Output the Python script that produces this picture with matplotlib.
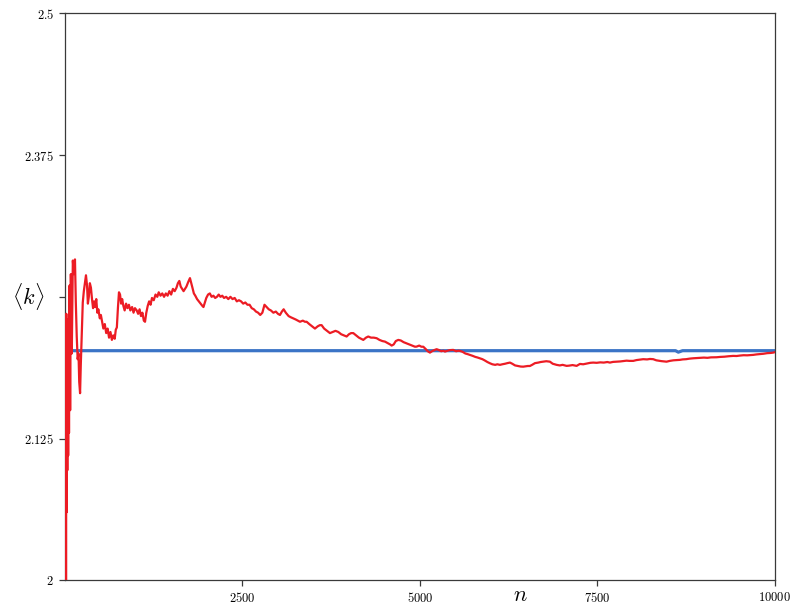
import matplotlib
matplotlib.use("Agg")
import matplotlib.pyplot as plt

plt.rcParams["mathtext.fontset"] = "cm"
plt.rcParams["font.family"] = "serif"
plt.rcParams["font.serif"] = ["cmr10", "DejaVu Serif"]
plt.rcParams["axes.formatter.use_mathtext"] = True

# running mean degree <k> as the network grows (red)
n_obs = [
    2, 6, 10, 14, 18, 22, 26, 32, 38, 44, 50, 56, 64, 72, 82, 95, 110, 125,
    140, 152,
    165, 178, 190, 200, 212, 222, 235, 250, 265, 280, 295, 310, 322, 335, 350,
    365, 380, 395, 410, 425, 440, 455, 470, 490, 505, 520, 540, 560, 580, 600,
    620, 640, 660, 680, 700, 715, 730, 745, 760, 775, 790, 805, 822, 840, 860,
    880, 900, 920, 945, 965, 985, 1010, 1030, 1050, 1070, 1090, 1110, 1127,
    1145, 1165, 1185, 1205, 1225, 1250, 1275, 1300, 1320, 1345, 1370, 1395,
    1420, 1445, 1470, 1495, 1520, 1545, 1570, 1590, 1610, 1630, 1650, 1670,
    1690, 1710, 1735, 1760, 1775, 1795, 1815, 1835, 1860, 1885, 1910, 1935,
    1950, 1970, 1990, 2015, 2040, 2065, 2090, 2115, 2140, 2165, 2190, 2215,
    2240, 2270, 2300, 2330, 2360, 2390, 2420, 2450, 2480, 2510, 2540, 2570,
    2600, 2630, 2660, 2690, 2720, 2750, 2780, 2810, 2840, 2870, 2900, 2935,
    2970, 3000, 3028, 3055, 3080, 3110, 3150, 3180, 3216, 3250, 3280, 3310,
    3350, 3380, 3404, 3440, 3480, 3521, 3560, 3590, 3615, 3650, 3690, 3732,
    3770, 3810, 3850, 3890, 3930, 3967, 4000, 4030, 4061, 4100, 4140, 4170,
    4202, 4240, 4272, 4310, 4350, 4390, 4430, 4470, 4507, 4550, 4580, 4601,
    4630, 4660, 4695, 4730, 4770, 4812, 4850, 4890, 4930, 4953, 4990, 5020,
    5047, 5080, 5110, 5141, 5170, 5200, 5235, 5270, 5300, 5330, 5352, 5390,
    5420, 5469, 5510, 5540, 5563, 5600, 5640, 5670, 5704, 5740, 5780, 5810,
    5845, 5880, 5910, 5950, 5986, 6020, 6060, 6090, 6127, 6160, 6200, 6230,
    6268, 6300, 6340, 6380, 6420, 6455, 6490, 6520, 6549, 6580, 6620, 6667,
    6700, 6737, 6780, 6831, 6870, 6900, 6925, 6970, 7010, 7066, 7100, 7150,
    7207, 7254, 7300, 7350, 7400, 7441, 7490, 7540, 7590, 7640, 7676, 7720,
    7770, 7820, 7870, 7911, 7950, 8005, 8050, 8100, 8145, 8200, 8240, 8286,
    8330, 8357, 8400, 8440, 8474, 8520, 8570, 8620, 8662, 8700, 8750, 8800,
    8850, 8900, 8950, 9000, 9050, 9100, 9179, 9230, 9290, 9350, 9413, 9460,
    9510, 9560, 9610, 9650, 9695, 9740, 9790, 9840, 9890, 9940, 9977, 10000,
]
k_avg = [
    2.230, 2.150, 2.225, 2.000, 2.235, 2.060, 2.220, 2.097, 2.230, 2.110,
    2.215, 2.130, 2.260, 2.150, 2.270, 2.200, 2.282, 2.270, 2.283, 2.245,
    2.215, 2.195,
    2.200, 2.175, 2.165, 2.190, 2.215, 2.245, 2.255, 2.262, 2.269, 2.260,
    2.244, 2.250, 2.262, 2.258, 2.248, 2.240, 2.246, 2.241, 2.248, 2.236,
    2.239, 2.231, 2.234, 2.229, 2.222, 2.226, 2.218, 2.222, 2.214, 2.219,
    2.212, 2.216, 2.213, 2.221, 2.223, 2.240, 2.254, 2.252, 2.244, 2.248,
    2.242, 2.238, 2.244, 2.240, 2.243, 2.238, 2.241, 2.236, 2.240, 2.238,
    2.235, 2.239, 2.233, 2.236, 2.229, 2.228, 2.236, 2.242, 2.246, 2.243,
    2.249, 2.247, 2.252, 2.250, 2.254, 2.251, 2.253, 2.250, 2.253, 2.251,
    2.255, 2.252, 2.257, 2.255, 2.258, 2.262, 2.264, 2.259, 2.257, 2.255,
    2.257, 2.259, 2.263, 2.2665, 2.263, 2.258, 2.253, 2.251, 2.248, 2.246,
    2.244, 2.242, 2.241, 2.245, 2.249, 2.252, 2.253, 2.250, 2.251, 2.249,
    2.250, 2.252, 2.250, 2.251, 2.249, 2.250, 2.248, 2.250, 2.248, 2.249,
    2.246, 2.247, 2.246, 2.244, 2.245, 2.243, 2.243, 2.240, 2.239, 2.237,
    2.236, 2.234, 2.236, 2.243, 2.241, 2.239, 2.238, 2.236, 2.237, 2.235,
    2.234, 2.237, 2.239, 2.236, 2.233, 2.232, 2.231, 2.230, 2.229, 2.228,
    2.229, 2.228, 2.228, 2.226, 2.224, 2.222, 2.224, 2.225, 2.225, 2.222,
    2.220, 2.218, 2.219, 2.220, 2.219, 2.217, 2.216, 2.215, 2.217, 2.218,
    2.218, 2.216, 2.214, 2.213, 2.212, 2.214, 2.215, 2.214, 2.214, 2.2135,
    2.212, 2.211, 2.2105, 2.209, 2.208, 2.207, 2.208, 2.211, 2.212, 2.2115,
    2.210, 2.209, 2.208, 2.207, 2.206, 2.2061, 2.207, 2.206, 2.206, 2.204,
    2.202, 2.2008, 2.202, 2.203, 2.2038, 2.203, 2.202, 2.2025, 2.2017, 2.2025,
    2.203, 2.2032, 2.202, 2.2025, 2.2023, 2.2015, 2.200, 2.1995, 2.1988, 2.198,
    2.197, 2.1965, 2.1958, 2.195, 2.194, 2.1925, 2.1914, 2.1905, 2.190, 2.1905,
    2.1900, 2.1905, 2.191, 2.1915, 2.192, 2.191, 2.1895, 2.189, 2.1885, 2.1884,
    2.1887, 2.189, 2.189, 2.190, 2.1915, 2.192, 2.1925, 2.1928, 2.1932, 2.1928,
    2.191, 2.1905, 2.190, 2.1895, 2.190, 2.1891, 2.1893, 2.1898, 2.1891, 2.1908,
    2.1905, 2.1912, 2.1918, 2.192, 2.1918, 2.1922, 2.192, 2.1925, 2.192, 2.1926,
    2.1928, 2.193, 2.1934, 2.1937, 2.1935, 2.1935, 2.1942, 2.1946, 2.195, 2.1948,
    2.1952, 2.195, 2.194, 2.1937, 2.1933, 2.193, 2.1928, 2.1935, 2.194, 2.1942,
    2.1944, 2.1948, 2.195, 2.1955, 2.1958, 2.196, 2.1962, 2.1964, 2.1962, 2.1966,
    2.1967, 2.197, 2.1972, 2.1976, 2.1979, 2.1978, 2.1982, 2.1985, 2.1984, 2.1986,
    2.1988, 2.1992, 2.1995, 2.1998, 2.2003, 2.2005, 2.2008, 2.2012,
]

# expected mean degree (blue)
n_ref = [1, 3, 6, 10, 8600, 8640, 8700, 10000]
k_ref = [2.04, 2.15, 2.19, 2.2025, 2.2025, 2.2012, 2.2025, 2.2025]

y_ticks = [2.0, 2.125, 2.25, 2.375, 2.5]
y_tick_labels = [r"$2$", r"$2.125$", "", r"$2.375$", r"$2.5$"]
x_ticks = [2500, 5000, 7500, 10000]
x_tick_labels = [r"$2500$", r"$5000$", r"$7500$", r"$10000$"]

fig = plt.figure(figsize=(7.94, 6.07), dpi=100)
ax = fig.add_axes([0.0819, 0.044, 0.894, 0.934])

ax.plot(n_ref, k_ref, color="#3b74c6", lw=2.3, zorder=2)
ax.plot(n_obs, k_avg, color="#ec1c24", lw=1.6, zorder=3)

ax.set_xlim(0, 10000)
ax.set_ylim(2.0, 2.5)
ax.set_xticks(x_ticks)
ax.set_xticklabels(x_tick_labels)
ax.set_yticks(y_ticks)
ax.set_yticklabels(y_tick_labels)

for s in ax.spines.values():
    s.set_color("#3a3a3a")
    s.set_linewidth(0.9)
ax.tick_params(direction="out", length=4, width=0.9, color="#3a3a3a",
               labelsize=9, pad=4)

ax.set_xlabel(r"$n$", fontsize=16, va="center")
ax.xaxis.set_label_coords(0.641, -0.027)
ax.set_ylabel(r"$\langle k \rangle$", fontsize=16, rotation=0,
              va="center", ha="center")
ax.yaxis.set_label_coords(-0.052, 0.5)

fig.savefig("out.png", dpi=100)
